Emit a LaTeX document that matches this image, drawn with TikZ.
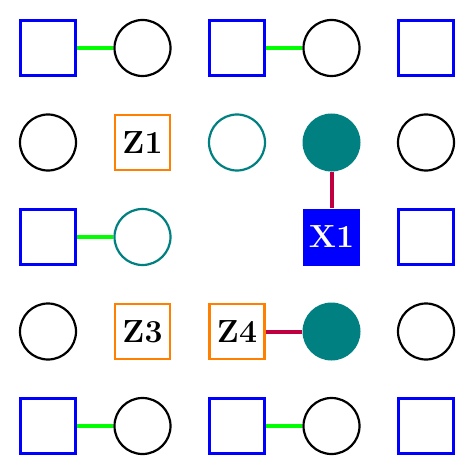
\documentclass[tikz,border=0pt]{standalone}
\definecolor{edgegreen}{RGB}{0,255,0}
\definecolor{edgered}{RGB}{191,0,64}
\definecolor{zorange}{RGB}{255,128,0}
\begin{document}
\begin{tikzpicture}[x=1pt,y=-1pt,
  sq/.style={draw=blue,line width=2.2pt,minimum size=55pt,inner sep=0pt,fill=white},
  circ/.style={circle,draw=black,line width=2.2pt,minimum size=56pt,inner sep=0pt,fill=white},
  tcirc/.style={circle,draw=teal,line width=2.2pt,minimum size=56pt,inner sep=0pt,fill=white},
  fcirc/.style={circle,fill=teal,minimum size=58pt,inner sep=0pt},
  zbox/.style={draw=zorange,line width=2.2pt,minimum size=55pt,inner sep=0pt,fill=white,font=\fontsize{32}{34}\selectfont\bfseries},
  xbox/.style={fill=blue,minimum size=57pt,inner sep=0pt,text=white,font=\fontsize{32}{34}\selectfont\bfseries},
  ge/.style={draw=edgegreen,line width=4pt},
  re/.style={draw=edgered,line width=4pt}]
\useasboundingbox (0,0) rectangle (476,476);
% row 0
\node[sq] (s00) at (48,48) {};
\node[circ] (c01) at (142.5,48) {};
\node[sq] (s02) at (237,48) {};
\node[circ] (c03) at (331.5,48) {};
\node[sq] (s04) at (426,48) {};
% row 1
\node[circ] (c10) at (48,142.5) {};
\node[zbox] (z1) at (142.5,142.5) {Z1};
\node[tcirc] (t12) at (237,142.5) {};
\node[fcirc] (f13) at (331.5,142.5) {};
\node[circ] (c14) at (426,142.5) {};
% row 2
\node[sq] (s20) at (48,237) {};
\node[tcirc] (t21) at (142.5,237) {};
\node[xbox] (x1) at (331.5,237) {X1};
\node[sq] (s24) at (426,237) {};
% row 3
\node[circ] (c30) at (48,331.5) {};
\node[zbox] (z3) at (142.5,331.5) {Z3};
\node[zbox] (z4) at (237,331.5) {Z4};
\node[fcirc] (f33) at (331.5,331.5) {};
\node[circ] (c34) at (426,331.5) {};
% row 4
\node[sq] (s40) at (48,426) {};
\node[circ] (c41) at (142.5,426) {};
\node[sq] (s42) at (237,426) {};
\node[circ] (c43) at (331.5,426) {};
\node[sq] (s44) at (426,426) {};
% edges
\draw[ge] (s00) -- (c01);
\draw[ge] (s02) -- (c03);
\draw[ge] (s20) -- (t21);
\draw[ge] (s40) -- (c41);
\draw[ge] (s42) -- (c43);
\draw[re] (f13) -- (x1);
\draw[re] (z4) -- (f33);
\end{tikzpicture}
\end{document}
